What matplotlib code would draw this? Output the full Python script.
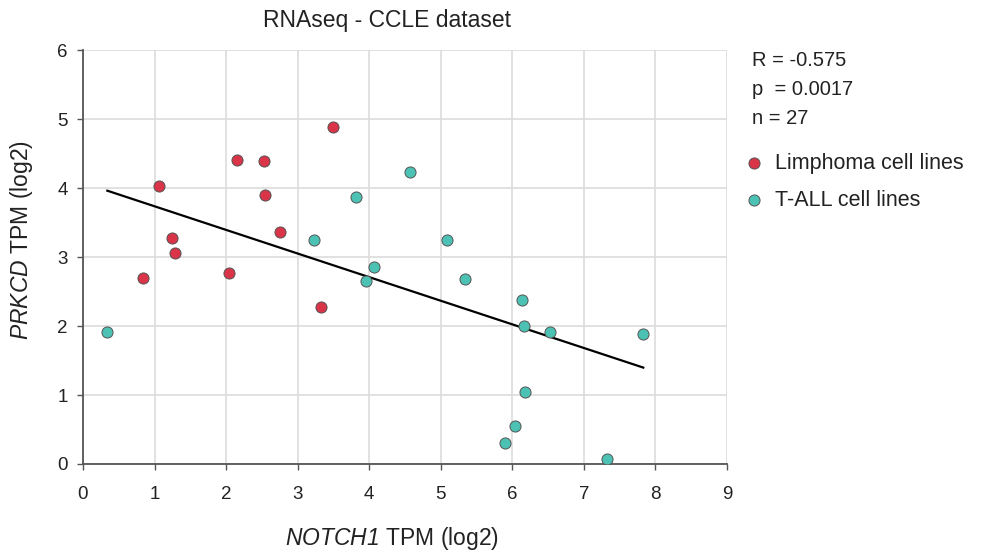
import numpy as np
import matplotlib.pyplot as plt

plt.rcParams['font.family'] = ['Liberation Sans', 'DejaVu Sans']
# italic gene names (digits included) through mathtext
plt.rcParams['mathtext.fontset'] = 'custom'
plt.rcParams['mathtext.rm'] = 'Liberation Sans:italic'
plt.rcParams['mathtext.it'] = 'Liberation Sans:italic'

# Limphoma cell lines
lym_x = [0.84, 1.06, 1.24, 1.29, 2.04, 2.15, 2.53, 2.54, 2.75, 3.33, 3.49]
lym_y = [2.70, 4.03, 3.28, 3.06, 2.77, 4.41, 4.39, 3.90, 3.36, 2.28, 4.88]

# T-ALL cell lines
tall_x = [0.34, 3.23, 3.81, 3.95, 4.07, 4.57, 5.09, 5.34, 6.13, 6.16,
          6.53, 7.83, 6.18, 6.04, 5.90, 7.32]
tall_y = [1.91, 3.25, 3.87, 2.65, 2.86, 4.23, 3.25, 2.68, 2.38, 2.00,
          1.91, 1.88, 1.04, 0.55, 0.30, 0.07]

stats_lines = ['R = -0.575', 'p  = 0.0017', 'n = 27']
legend_labels = ['Limphoma cell lines', 'T-ALL cell lines']

red = '#d93448'
teal = '#4cc2b4'

fig = plt.figure(figsize=(9.87, 5.54), dpi=100)
ax = fig.add_axes([83 / 987, 1 - 464 / 554, 644 / 987, 414 / 554])

all_x = np.array(lym_x + tall_x)
all_y = np.array(lym_y + tall_y)
slope, intercept = np.polyfit(all_x, all_y, 1)
xs = np.array([all_x.min(), all_x.max()])
ax.plot(xs, slope * xs + intercept, color='black', lw=1.6, zorder=2)

ax.plot(lym_x, lym_y, 'o', ms=8, mfc=red, mec='#555555', mew=0.7, zorder=3)
ax.plot(tall_x, tall_y, 'o', ms=8, mfc=teal, mec='#555555', mew=0.7, zorder=3)

ax.set_xlim(0, 9)
ax.set_ylim(0, 6)
ax.set_xticks(range(10))
ax.set_yticks(range(7))
ax.grid(True, color='#dcdcdc', lw=1.2)
ax.set_axisbelow(True)
for s in ['top', 'right']:
    ax.spines[s].set_visible(False)
for s in ['left', 'bottom']:
    ax.spines[s].set_color('#555555')
    ax.spines[s].set_linewidth(1.3)
ax.tick_params(direction='out', length=4, width=1, color='#555555',
               labelsize=13.5, labelcolor='#222222')
ax.tick_params(axis='x', pad=12)
ax.tick_params(axis='y', pad=7)

fig.text(387 / 987, 1 - 20 / 554, 'RNAseq - CCLE dataset', ha='center', va='center',
         fontsize=16.5, color='#222222')
fig.text(392 / 987, 1 - 538 / 554, r'$NOTCH1$ TPM (log2)', ha='center', va='center',
         fontsize=16.5, color='#222222')
fig.text(22 / 987, 1 - 240 / 554, r'$PRKCD$ TPM (log2)', ha='center', va='center',
         rotation=90, fontsize=16.5, color='#222222')

for i, line in enumerate(stats_lines):
    fig.text(752 / 987, 1 - (60 + 29 * i) / 554, line, ha='left', va='center',
             fontsize=14.5, color='#222222')

for i, (lab, col) in enumerate(zip(legend_labels, [red, teal])):
    yy = 1 - (163 + 37 * i) / 554
    fig.lines.append(plt.Line2D([754 / 987], [yy], marker='o', ms=8, mfc=col,
                                mec='#555555', mew=0.7, transform=fig.transFigure))
    fig.text(775 / 987, yy, lab, ha='left', va='center', fontsize=15.5, color='#222222')

fig.savefig('out.png', dpi=100)
